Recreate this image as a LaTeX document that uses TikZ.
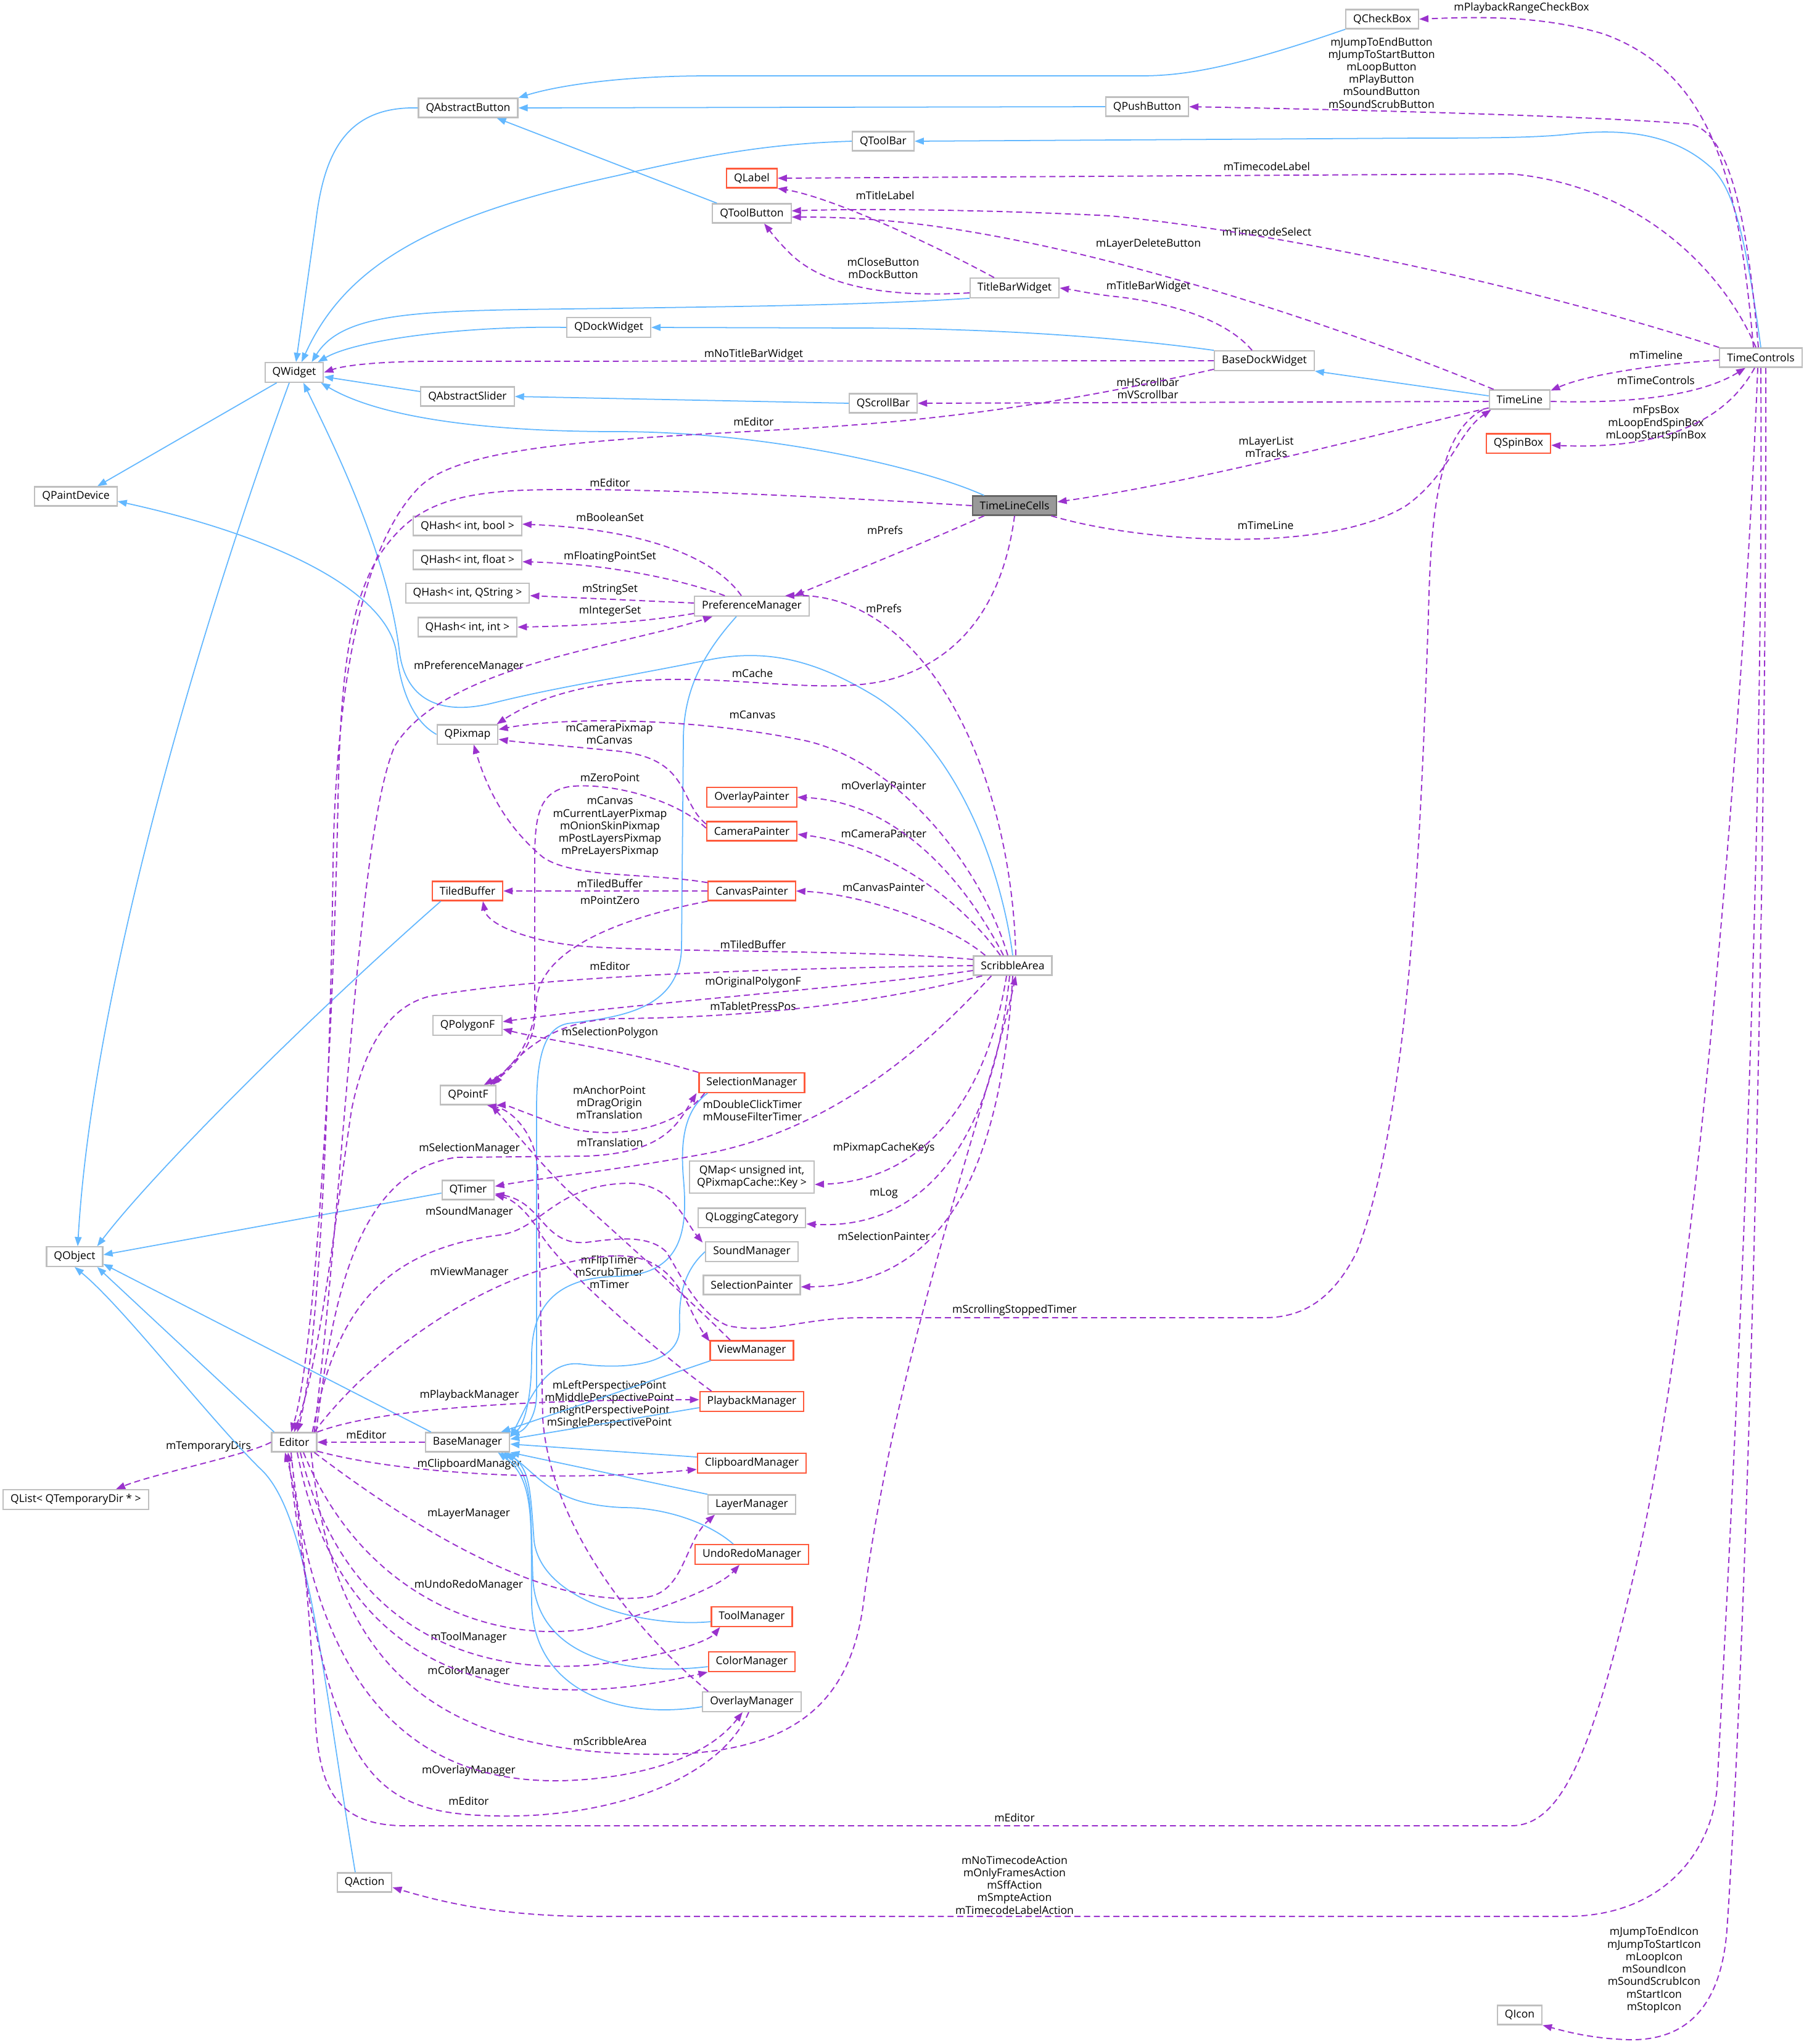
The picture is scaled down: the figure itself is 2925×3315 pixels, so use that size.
\documentclass[tikz,border=0pt]{standalone}
\usepackage{fontspec}
\setmainfont{Open Sans}
\usetikzlibrary{arrows.meta,calc}
\definecolor{inhblue}{HTML}{63B8FF}
\definecolor{usepurple}{HTML}{9A32CD}
\definecolor{boxgray}{HTML}{BFBFBF}
\definecolor{boxred}{HTML}{FF5A3C}
\definecolor{selfill}{HTML}{999999}
\definecolor{seldraw}{HTML}{666666}
\begin{document}
\begin{tikzpicture}[x=0.1mm, y=-0.1mm,
    every node/.style={font=\fontsize{5}{5.75}\selectfont},
    cls/.style={rectangle, draw=boxgray, fill=white, line width=0.6pt, minimum height=3.1mm, inner xsep=1.2mm, inner ysep=0.7mm, align=center},
    clsred/.style={cls, draw=boxred},
    clssel/.style={cls, draw=seldraw, fill=selfill},
    lbl/.style={inner sep=0pt, align=center},
    inh/.style={draw=inhblue, line width=0.5pt, -{Triangle[length=1.5mm,width=1.1mm]}},
    use/.style={draw=usepurple, line width=0.55pt, dash pattern=on 2.8pt off 1.7pt, -{Triangle[length=1.5mm,width=1.1mm]}}
]
\useasboundingbox (0,0) rectangle (2925,3315);
\fill[white] (0,0) rectangle (2925,3315);

\node[cls] (cb) at (2241,31) {QCheckBox};
\node[cls] (ab) at (759,175) {QAbstractButton};
\node[cls] (pb) at (1860,173) {QPushButton};
\node[cls] (tbar) at (1432,229) {QToolBar};
\node[clsred] (lab) at (1219,289) {QLabel};
\node[cls] (tbtn) at (1219,346) {QToolButton};
\node[cls] (tbw) at (1645,467) {TitleBarWidget};
\node[cls] (dock) at (987,531) {QDockWidget};
\node[cls] (wid) at (477,604) {QWidget};
\node[cls] (bdw) at (2050,585) {BaseDockWidget};
\node[cls] (tc) at (2855,580) {TimeControls};
\node[cls] (asl) at (758,643) {QAbstractSlider};
\node[cls] (sbar) at (1432,654) {QScrollBar};
\node[cls] (tl) at (2464,648) {TimeLine};
\node[clsred] (spin) at (2462,719) {QSpinBox};
\node[cls] (pd) at (123,805) {QPaintDevice};
\node[clssel] (tlc) at (1645,820) {TimeLineCells};
\node[cls] (hb) at (758,853) {QHash< int, bool >};
\node[cls] (hf) at (758,908) {QHash< int, float >};
\node[cls] (hs) at (758,962) {QHash< int, QString >};
\node[cls] (pm) at (1219,983) {PreferenceManager};
\node[cls] (hi) at (758,1017) {QHash< int, int >};
\node[cls] (pix) at (758,1191) {QPixmap};
\node[clsred] (ovp) at (1219,1293) {OverlayPainter};
\node[clsred] (cam) at (1219,1348) {CameraPainter};
\node[clsred] (tbuf) at (758,1445) {TiledBuffer};
\node[clsred] (cvp) at (1219,1445) {CanvasPainter};
\node[cls] (sa) at (1642,1566) {ScribbleArea};
\node[cls] (poly) at (758,1663) {QPolygonF};
\node[clsred] (selm) at (1219,1756) {SelectionManager};
\node[cls] (ptf) at (759,1776) {QPointF};
\node[cls] (qmap) at (1219,1909) {QMap< unsigned int,\\ QPixmapCache::Key >};
\node[cls] (tim) at (759,1930) {QTimer};
\node[cls] (logc) at (1219,1975) {QLoggingCategory};
\node[cls] (snd) at (1219,2030) {SoundManager};
\node[cls] (obj) at (121,2038) {QObject};
\node[cls] (selp) at (1219,2084) {SelectionPainter};
\node[clsred] (vm) at (1219,2190) {ViewManager};
\node[clsred] (plm) at (1219,2273) {PlaybackManager};
\node[cls] (ed) at (477,2339) {Editor};
\node[cls] (bm) at (758,2339) {BaseManager};
\node[cls] (tdirs) at (123,2432) {QList< QTemporaryDir * >};
\node[clsred] (clip) at (1219,2373) {ClipboardManager};
\node[cls] (lm) at (1219,2440) {LayerManager};
\node[clsred] (urm) at (1219,2521) {UndoRedoManager};
\node[clsred] (tm) at (1219,2622) {ToolManager};
\node[clsred] (colm) at (1219,2695) {ColorManager};
\node[cls] (ovm) at (1219,2760) {OverlayManager};
\node[cls] (act) at (591,3053) {QAction};
\node[cls] (ico) at (2464,3268) {QIcon};

\node[lbl] (lb1) at (2467,13) {mPlaybackRangeCheckBox};
\node[lbl] (lb2) at (2240,118) {mJumpToEndButton\\mJumpToStartButton\\mLoopButton\\mPlayButton\\mSoundButton\\mSoundScrubButton};
\node[lbl] (lb3) at (2054,270) {mTimecodeLabel};
\node[lbl] (lb4) at (1435,317) {mTitleLabel};
\node[lbl] (lb5) at (2054,376) {mTimecodeSelect};
\node[lbl] (lb6) at (1862,396) {mLayerDeleteButton};
\node[lbl] (lb7) at (1432,435) {mCloseButton\\mDockButton};
\node[lbl] (lb8) at (1862,465) {mTitleBarWidget};
\node[lbl] (lb9) at (1222,575) {mNoTitleBarWidget};
\node[lbl] (lb10) at (2685,576) {mTimeline};
\node[lbl] (lb11) at (2685,617) {mTimeControls};
\node[lbl] (lb12) at (1861,630) {mHScrollbar\\mVScrollbar};
\node[lbl] (lb13) at (2685,687) {mFpsBox\\mLoopEndSpinBox\\mLoopStartSpinBox};
\node[lbl] (lb14) at (1222,684) {mEditor};
\node[lbl] (lb15) at (2053,725) {mLayerList\\mTracks};
\node[lbl] (lb16) at (989,783) {mEditor};
\node[lbl] (lb17) at (2052,852) {mTimeLine};
\node[lbl] (lb18) at (1435,860) {mPrefs};
\node[lbl] (lb19) at (989,839) {mBooleanSet};
\node[lbl] (lb20) at (989,903) {mFloatingPointSet};
\node[lbl] (lb21) at (989,956) {mStringSet};
\node[lbl] (lb22) at (989,991) {mIntegerSet};
\node[lbl] (lb23) at (1433,987) {mPrefs};
\node[lbl] (lb24) at (760,1081) {mPreferenceManager};
\node[lbl] (lb25) at (1220,1092) {mCache};
\node[lbl] (lb26) at (1220,1159) {mCanvas};
\node[lbl] (lb27) at (988,1190) {mCameraPixmap\\mCanvas};
\node[lbl] (lb28) at (989,1261) {mZeroPoint};
\node[lbl] (lb29) at (989,1341) {mCanvas\\mCurrentLayerPixmap\\mOnionSkinPixmap\\mPostLayersPixmap\\mPreLayersPixmap};
\node[lbl] (lb30) at (1433,1276) {mOverlayPainter};
\node[lbl] (lb31) at (1433,1352) {mCameraPainter};
\node[lbl] (lb32) at (989,1433) {mTiledBuffer};
\node[lbl] (lb33) at (989,1460) {mPointZero};
\node[lbl] (lb34) at (1433,1439) {mCanvasPainter};
\node[lbl] (lb35) at (1221,1532) {mTiledBuffer};
\node[lbl] (lb36) at (989,1567) {mEditor};
\node[lbl] (lb37) at (1221,1593) {mOriginalPolygonF};
\node[lbl] (lb38) at (1221,1632) {mTabletPressPos};
\node[lbl] (lb39) at (989,1675) {mSelectionPolygon};
\node[lbl] (lb40) at (988,1788) {mAnchorPoint\\mDragOrigin\\mTranslation};
\node[lbl] (lb41) at (1220,1801) {mDoubleClickTimer\\mMouseFilterTimer};
\node[lbl] (lb42) at (989,1853) {mTranslation};
\node[lbl] (lb43) at (761,1863) {mSelectionManager};
\node[lbl] (lb44) at (1433,1862) {mPixmapCacheKeys};
\node[lbl] (lb45) at (1433,1935) {mLog};
\node[lbl] (lb46) at (761,1966) {mSoundManager};
\node[lbl] (lb47) at (1433,2005) {mSelectionPainter};
\node[lbl] (lb48) at (988,2063) {mFlipTimer\\mScrubTimer\\mTimer};
\node[lbl] (lb49) at (761,2064) {mViewManager};
\node[lbl] (lb50) at (1645,2125) {mScrollingStoppedTimer};
\node[lbl] (lb51) at (761,2263) {mPlaybackManager};
\node[lbl] (lb52) at (988,2278) {mLeftPerspectivePoint\\mMiddlePerspectivePoint\\mRightPerspectivePoint\\mSinglePerspectivePoint};
\node[lbl] (lb53) at (594,2327) {mEditor};
\node[lbl] (lb54) at (338,2346) {mTemporaryDirs};
\node[lbl] (lb55) at (761,2375) {mClipboardManager};
\node[lbl] (lb56) at (760,2455) {mLayerManager};
\node[lbl] (lb57) at (760,2571) {mUndoRedoManager};
\node[lbl] (lb58) at (760,2656) {mToolManager};
\node[lbl] (lb59) at (760,2711) {mColorManager};
\node[lbl] (lb60) at (989,2824) {mScribbleArea};
\node[lbl] (lb61) at (760,2872) {mOverlayManager};
\node[lbl] (lb62) at (760,2921) {mEditor};
\node[lbl] (lb63) at (1645,2948) {mEditor};
\node[lbl] (lb64) at (1645,3057) {mNoTimecodeAction\\mOnlyFramesAction\\mSffAction\\mSmpteAction\\mTimecodeLabelAction};
\node[lbl] (lb65) at (2682,3195) {mJumpToEndIcon\\mJumpToStartIcon\\mLoopIcon\\mSoundIcon\\mSoundScrubIcon\\mStartIcon\\mStopIcon};

\foreach \a/\b in {pb.west/ab.east, sbar.west/asl.east, lm.north west/bm.south east}{\draw[inh] (\a) -- (\b);}
\draw[inh] (cb.south west) .. controls (2000,110) and (1920,123) .. (1850,123) -- (1150,123) .. controls (1000,123) and (900,140) .. (ab.north east);
\draw[inh] ($(tbtn.north west)+(8,0)$) -- ($(ab.south east)+(-35,0)$);
\draw[inh] (ab.west) .. controls (560,172) and (525,250) .. (512,360) -- ($(wid.north)+(3,0)$);
\draw[inh] (tbar.west) .. controls (1250,233) and (1150,250) .. (1000,285) .. controls (700,350) and (560,430) .. ($(wid.north)+(12,0)$);
\draw[inh] (tbw.south west) .. controls (1400,495) and (1200,497) .. (1000,500) .. controls (700,504) and (560,500) .. ($(wid.north east)+(-20,0)$);
\draw[inh] (dock.west) .. controls (760,528) and (580,550) .. ($(wid.north east)+(-10,0)$);
\draw[inh] (bdw.north west) .. controls (1800,545) and (1600,533) .. (1400,532) -- (dock.east);
\draw[inh] ($(tl.west)+(0,-6)$) -- (bdw.south east);
\draw[inh] (tc.north) .. controls (2830,380) and (2810,300) .. (2770,268) .. controls (2720,225) and (2650,205) .. (2540,218) .. controls (2500,222) and (2450,224) .. (2300,224) -- (tbar.east);
\draw[inh] ($(asl.west)+(0,-8)$) -- ($(wid.east)+(0,7)$);
\draw[inh] ($(tlc.north west)+(20,0)$) .. controls (1500,760) and (1250,700) .. (1000,700) .. controls (800,700) and (620,680) .. ($(wid.south east)+(-5,0)$);
\draw[inh] ($(wid.south west)+(20,0)$) -- ($(pd.north)+(35,0)$);
\draw[inh] ($(wid.south)+(-8,0)$) .. controls (330,1000) and (150,1600) .. ($(obj.north)+(5,0)$);
\draw[inh] (pix.west) .. controls (670,1170) and (650,1120) .. (643,1060) .. controls (630,960) and (450,870) .. ($(pd.east)+(0,8)$);
\draw[inh] (sa.north) .. controls (1625,1420) and (1560,1220) .. (1420,1130) .. controls (1330,1075) and (1250,1050) .. (1150,1070) .. controls (1000,1100) and (900,1115) .. (800,1140) .. controls (720,1160) and (660,1140) .. (648,1060) .. controls (630,900) and (540,720) .. ($(wid.south)+(15,0)$);
\draw[inh] ($(tbuf.south west)+(15,0)$) .. controls (500,1650) and (250,1900) .. ($(obj.north east)+(-10,0)$);
\draw[inh] ($(tim.west)+(0,5)$) -- ($(obj.east)+(0,-3)$);
\draw[inh] ($(ed.north west)+(5,0)$) -- ($(obj.south east)+(-10,0)$);
\draw[inh] ($(bm.north west)+(10,0)$) -- ($(obj.south east)+(0,-5)$);
\draw[inh] ($(act.north)+(-15,0)$) .. controls (520,2700) and (500,2450) .. (420,2380) .. controls (330,2290) and (200,2120) .. (obj.south);
\draw[inh] ($(pm.south)+(-25,0)$) .. controls (1140,1060) and (1108,1120) .. (1108,1200) -- (1105,1540) .. controls (1100,1640) and (1000,1650) .. (920,1660) .. controls (880,1668) and (870,1720) .. (870,1800) -- (870,2260) .. controls (870,2300) and (850,2320) .. ($(bm.north east)+(0,5)$);
\draw[inh] ($(selm.south west)+(15,0)$) .. controls (1110,1800) and (1103,1850) .. (1108,1910) .. controls (1115,1990) and (1110,2068) .. (1000,2070) .. controls (900,2072) and (862,2120) .. (862,2200) .. controls (862,2270) and (850,2310) .. ($(bm.north east)+(0,8)$);
\draw[inh] (snd.west) .. controls (1110,2060) and (1100,2100) .. (1102,2150) .. controls (1105,2220) and (1000,2220) .. (940,2212) .. controls (880,2206) and (855,2280) .. ($(bm.east)+(0,-8)$);
\draw[inh] ($(vm.south west)+(2,0)$) -- ($(bm.north east)+(-15,0)$);
\draw[inh] ($(plm.west)+(0,10)$) -- ($(bm.east)+(0,-5)$);
\draw[inh] ($(clip.west)+(0,-10)$) -- ($(bm.east)+(0,3)$);
\draw[inh] ($(urm.north)+(-30,0)$) .. controls (1150,2470) and (1080,2445) .. (1010,2445) .. controls (900,2440) and (880,2400) .. ($(bm.south east)+(-5,0)$);
\draw[inh] ($(tm.west)+(0,8)$) .. controls (1050,2640) and (880,2600) .. (866,2500) .. controls (860,2420) and (860,2380) .. ($(bm.south east)+(-10,0)$);
\draw[inh] ($(colm.west)+(0,8)$) .. controls (1000,2720) and (870,2680) .. (864,2560) .. controls (860,2450) and (865,2390) .. ($(bm.south east)+(-15,0)$);
\draw[inh] ($(ovm.west)+(0,8)$) .. controls (1000,2790) and (865,2740) .. (862,2600) .. controls (860,2480) and (870,2400) .. ($(bm.south east)+(-20,0)$);

\draw[use] ($(tc.north)+(-12,0)$) .. controls (2820,300) and (2780,120) .. (2600,55) .. controls (2500,25) and (2400,27) .. (cb.east);
\draw[use] ($(tc.north)+(-4,0)$) .. controls (2835,380) and (2810,215) .. (2740,201) .. controls (2600,190) and (2300,180) .. (pb.east);
\draw[use] ($(tc.north)+(-8,0)$) .. controls (2790,430) and (2650,300) .. (2450,282) -- (lab.east);
\draw[use] (tc.north west) .. controls (2500,470) and (2100,380) .. (1800,350) .. controls (1600,340) and (1400,338) .. ($(tbtn.east)+(0,-4)$);
\draw[use] ($(tl.north west)+(8,0)$) .. controls (2200,540) and (1900,440) .. (1650,390) .. controls (1500,360) and (1400,352) .. ($(tbtn.east)+(0,6)$);
\draw[use] ($(tbw.north west)+(40,0)$) .. controls (1520,400) and (1350,320) .. (lab.south east);
\draw[use] ($(tbw.west)+(0,8)$) .. controls (1400,485) and (1320,450) .. (1280,410) .. controls (1255,385) and (1245,370) .. ($(tbtn.south)+(20,0)$);
\draw[use] ($(bdw.north)+(-20,0)$) .. controls (1990,520) and (1900,490) .. (1800,480) .. controls (1760,475) and (1740,470) .. (tbw.east);
\draw[use] (bdw.west) -- (700,586) .. controls (620,586) and (560,592) .. (wid.east);
\draw[use] ($(tl.west)+(0,3)$) -- (sbar.east);
\draw[use] ($(tc.west)+(0,4)$) .. controls (2700,590) and (2580,605) .. ($(tl.north east)+(0,2)$);
\draw[use] ($(tl.east)+(0,3)$) .. controls (2650,655) and (2760,640) .. ($(tc.south)+(-25,0)$);
\draw[use] ($(tc.south)+(-10,0)$) .. controls (2800,680) and (2700,730) .. ($(spin.east)+(0,3)$);
\draw[use] ($(tl.south west)+(0,-3)$) .. controls (2250,700) and (1950,780) .. ($(tlc.east)+(0,-6)$);
\draw[use] ($(tlc.south east)+(-10,0)$) .. controls (1850,880) and (2150,900) .. (2280,820) .. controls (2350,770) and (2365,700) .. ($(tl.south west)+(4,0)$);
\draw[use] ($(tl.south west)+(-10,0)$) .. controls (2340,700) and (2320,800) .. (2316,1000) .. controls (2305,1300) and (2290,1800) .. (2200,2030) .. controls (2160,2110) and (2110,2137) .. (2050,2137) -- (1400,2137) .. controls (1300,2137) and (1250,2165) .. (1180,2150) .. controls (1130,2130) and (1100,2060) .. (1080,2030) .. controls (1050,2000) and (990,2010) .. (950,2015) .. controls (880,2020) and (880,1950) .. ($(tim.east)+(0,6)$);
\draw[use] ($(bdw.south west)+(0,-3)$) .. controls (1700,660) and (1500,683) .. (1300,695) .. controls (1000,712) and (750,720) .. (680,790) .. controls (590,880) and (545,1100) .. (540,1400) .. controls (535,1800) and (515,2200) .. ($(ed.north)+(5,0)$);
\draw[use] (tlc.west) .. controls (1300,803) and (1000,790) .. (850,795) .. controls (720,800) and (670,830) .. (630,880) .. controls (565,960) and (552,1100) .. (548,1300) .. controls (540,1700) and (510,2200) .. ($(ed.north)+(-5,0)$);
\draw[use] (sa.west) .. controls (1300,1570) and (900,1580) .. (700,1615) .. controls (630,1630) and (590,1700) .. (570,1800) .. controls (540,2000) and (520,2200) .. ($(ed.north)+(0,0)$);
\draw[use] ($(tlc.south west)+(20,0)$) .. controls (1500,880) and (1350,940) .. ($(pm.north east)+(-25,0)$);
\draw[use] (tlc.south) .. controls (1630,950) and (1580,1060) .. (1450,1100) .. controls (1350,1130) and (1200,1095) .. (1050,1103) .. controls (920,1110) and (850,1145) .. ($(pix.north east)+(-3,0)$);
\draw[use] ($(pm.north)+(-17,0)$) .. controls (1170,920) and (1080,860) .. ($(hb.east)+(0,-3)$);
\draw[use] ($(pm.north west)+(50,0)$) .. controls (1120,945) and (1000,915) .. ($(hf.east)+(0,3)$);
\draw[use] ($(pm.west)+(0,-5)$) -- ($(hs.east)+(0,4)$);
\draw[use] ($(pm.south west)+(0,-5)$) .. controls (1050,1008) and (950,1015) .. (hi.east);
\draw[use] ($(ed.north east)+(-5,0)$) .. controls (560,1900) and (580,1350) .. (640,1210) .. controls (720,1080) and (1000,1050) .. ($(pm.south west)+(30,0)$);
\draw[use] ($(sa.north)+(5,0)$) .. controls (1640,1250) and (1500,960) .. ($(pm.north east)+(-40,0)$);
\draw[use] ($(sa.north)+(-8,0)$) .. controls (1590,1400) and (1450,1230) .. (1300,1200) .. controls (1100,1160) and (900,1165) .. ($(pix.east)+(0,-8)$);
\draw[use] ($(cam.north west)+(0,5)$) .. controls (1100,1300) and (1120,1230) .. (1000,1218) .. controls (900,1208) and (850,1205) .. ($(pix.east)+(0,8)$);
\draw[use] ($(cvp.north west)+(0,3)$) .. controls (1050,1415) and (930,1425) .. (880,1390) .. controls (820,1340) and (790,1280) .. ($(pix.south)+(10,0)$);
\draw[use] ($(cam.west)+(0,-5)$) .. controls (1100,1300) and (1000,1270) .. (930,1275) .. controls (870,1280) and (867,1330) .. (867,1400) -- (867,1650) .. controls (867,1700) and (820,1740) .. ($(ptf.north east)+(-10,0)$);
\draw[use] (cvp.west) -- (tbuf.east);
\draw[use] (cvp.south west) .. controls (1000,1490) and (880,1540) .. (870,1620) .. controls (865,1700) and (820,1740) .. ($(ptf.north east)+(-20,0)$);
\draw[use] ($(sa.north)+(-15,0)$) .. controls (1560,1420) and (1450,1300) .. (ovp.east);
\draw[use] ($(sa.north)+(-20,0)$) .. controls (1550,1450) and (1430,1370) .. ($(cam.east)+(0,5)$);
\draw[use] ($(sa.north west)+(20,0)$) .. controls (1540,1500) and (1400,1450) .. (cvp.east);
\draw[use] ($(sa.west)+(0,-10)$) .. controls (1400,1540) and (1100,1545) .. (950,1535) .. controls (860,1528) and (790,1500) .. ($(tbuf.south)+(25,0)$);
\draw[use] ($(sa.west)+(0,8)$) .. controls (1400,1600) and (1000,1630) .. ($(poly.east)+(0,-6)$);
\draw[use] ($(sa.south west)+(15,0)$) .. controls (1450,1620) and (1250,1650) .. (1000,1652) .. controls (900,1655) and (850,1700) .. ($(ptf.north east)+(-5,0)$);
\draw[use] (selm.north west) .. controls (1000,1700) and (900,1690) .. ($(poly.east)+(0,6)$);
\draw[use] ($(selm.south west)+(10,0)$) .. controls (1100,1830) and (980,1860) .. (880,1815) .. controls (840,1800) and (820,1792) .. (ptf.south east);
\draw[use] ($(sa.south west)+(30,0)$) .. controls (1500,1700) and (1350,1830) .. (1150,1870) .. controls (1000,1898) and (880,1910) .. ($(tim.east)+(0,-6)$);
\draw[use] ($(ed.north east)+(-2,0)$) .. controls (540,2100) and (580,1900) .. (740,1877) -- (950,1875) .. controls (1080,1870) and (1100,1820) .. ($(selm.south west)+(-3,0)$);
\draw[use] ($(vm.north)+(-35,0)$) .. controls (1120,2110) and (1000,2000) .. (920,1930) .. controls (870,1880) and (830,1830) .. ($(ptf.south east)+(-8,0)$);
\draw[use] ($(sa.south)+(-10,0)$) .. controls (1600,1780) and (1500,1915) .. ($(qmap.east)+(0,12)$);
\draw[use] ($(sa.south)+(-5,0)$) .. controls (1610,1850) and (1500,1995) .. ($(logc.east)+(0,10)$);
\draw[use] (sa.south) .. controls (1620,1950) and (1500,2085) .. ($(selp.east)+(0,3)$);
\draw[use] ($(ed.north east)+(-8,0)$) .. controls (540,2150) and (600,2030) .. (810,2003) .. controls (880,1993) and (900,1920) .. (1021,1919) .. controls (1090,1920) and (1110,1980) .. ($(snd.north west)+(-4,2)$);
\draw[use] ($(plm.north west)+(20,0)$) .. controls (1050,2180) and (900,2050) .. (870,1990) .. controls (850,1960) and (830,1945) .. ($(tim.east)+(0,8)$);
\draw[use] ($(ed.north east)+(-5,0)$) .. controls (600,2200) and (800,2050) .. (990,2037) .. controls (1100,2030) and (1110,2120) .. ($(vm.north west)+(0,2)$);
\draw[use] (ed.north east) .. controls (600,2290) and (800,2270) .. ($(plm.west)+(0,-3)$);
\draw[use] ($(ovm.north west)+(10,0)$) .. controls (1000,2620) and (890,2450) .. (880,2300) -- (872,1900) .. controls (870,1840) and (830,1800) .. ($(ptf.south east)+(-15,0)$);
\draw[use] (bm.west) -- (ed.east);
\draw[use] (ed.west) .. controls (400,2360) and (250,2390) .. ($(tdirs.north)+(65,0)$);
\draw[use] ($(ed.south east)+(0,-2)$) .. controls (650,2390) and (900,2405) .. ($(clip.west)+(0,10)$);
\draw[use] ($(ed.south east)+(-5,0)$) .. controls (700,2500) and (900,2610) .. (1050,2590) .. controls (1110,2580) and (1110,2500) .. ($(lm.south west)+(12,0)$);
\draw[use] ($(ed.south)+(15,0)$) .. controls (600,2620) and (850,2680) .. (1000,2630) .. controls (1100,2600) and (1170,2570) .. ($(urm.south)+(-20,0)$);
\draw[use] ($(ed.south)+(10,0)$) .. controls (570,2700) and (850,2720) .. (1000,2695) .. controls (1100,2680) and (1150,2660) .. ($(tm.south west)+(15,0)$);
\draw[use] ($(ed.south)+(5,0)$) .. controls (560,2770) and (900,2770) .. (colm.south west);
\draw[use] ($(ed.south east)+(-10,0)$) .. controls (540,2700) and (700,2840) .. (1050,2845) .. controls (1300,2850) and (1380,2750) .. (1400,2600) .. controls (1450,2200) and (1600,1800) .. ($(sa.south)+(5,0)$);
\draw[use] ($(ed.south)+(-5,0)$) .. controls (520,2880) and (800,2910) .. (1000,2880) .. controls (1120,2860) and (1170,2820) .. ($(ovm.south)+(-15,0)$);
\draw[use] ($(ovm.south)+(-5,0)$) .. controls (1170,2880) and (1000,2950) .. (800,2945) .. controls (600,2940) and (530,2880) .. ($(ed.south)+(-10,0)$);
\draw[use] ($(tc.south)+(-5,0)$) .. controls (2835,1000) and (2760,2100) .. (2650,2550) .. controls (2580,2850) and (2530,2961) .. (2450,2961) -- (650,2961) .. controls (545,2958) and (520,2900) .. (512,2800) .. controls (505,2650) and (490,2450) .. ($(ed.south)+(-15,0)$);
\draw[use] (tc.south) .. controls (2860,1500) and (2810,2400) .. (2784,2900) .. controls (2775,3000) and (2700,3108) .. (2539,3108) -- (960,3108) .. controls (800,3108) and (700,3080) .. ($(act.east)+(0,8)$);
\draw[use] ($(tc.south)+(8,0)$) .. controls (2865,1500) and (2830,2700) .. (2800,3130) .. controls (2790,3260) and (2730,3310) .. (2640,3308) .. controls (2580,3306) and (2540,3295) .. (ico.south east);
\end{tikzpicture}
\end{document}
